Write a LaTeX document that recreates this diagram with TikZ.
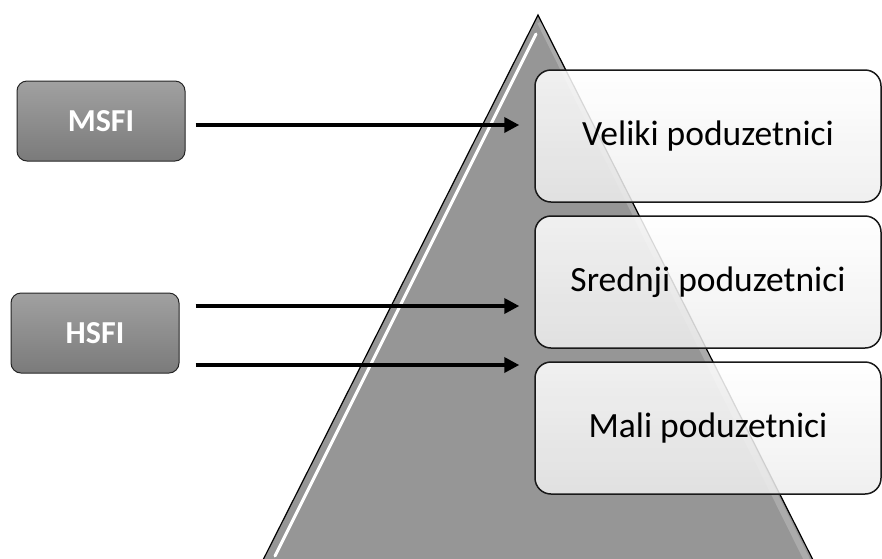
\documentclass[tikz,border=0pt]{standalone}
\usepackage{fontspec}
\setmainfont{Carlito}
\tikzstyle{every node}+=[inner sep=0pt]
\tikzstyle{sfi}=[rectangle, rounded corners=10pt, draw=black!85, line width=1pt, top color=black!37, bottom color=black!52, text=white, font=\fontsize{32}{38}\selectfont\bfseries, minimum width=168pt, minimum height=80pt]
\tikzstyle{level}=[rectangle, rounded corners=16pt, draw=black!90, line width=1.5pt, top color=white, bottom color=black!7, fill opacity=0.86, draw opacity=1, text opacity=1, font=\fontsize{35.5}{42}\selectfont, minimum width=346pt, minimum height=132pt, node distance=146pt]
\tikzstyle{arr}=[-{Triangle[length=15pt,width=15pt]}, line width=3.5pt]
\usetikzlibrary{arrows.meta,positioning}

\begin{document}
\begin{tikzpicture}[x=1pt,y=-1pt]
\useasboundingbox (0,0) rectangle (882,558);
\clip (0,0) rectangle (882,558);

% pyramid
\coordinate (top) at (538,15);
\coordinate (bl) at (262,562);
\coordinate (br) at (814,562);
\fill[black!41] (top) -- (bl) -- (br) -- cycle;
\draw[white, opacity=0.2, line width=6pt] (540,22) -- (808,562);
\draw[white, line width=3pt, line cap=round] (536,34) -- (275,556);
\draw[line width=1.2pt] (bl) -- (top) -- (br);

\node[level] (Veliki) at (708,136) {\raisebox{-3pt}{Veliki poduzetnici}};
\node[level, below of=Veliki] (Srednji) {\raisebox{-3pt}{Srednji poduzetnici}};
\node[level, below of=Srednji] (Mali) {\raisebox{-3pt}{Mali poduzetnici}};

\node[sfi] (MSFI) at (101,121) {MSFI};
\node[sfi] (HSFI) at (95,333) {HSFI};

\path ([xshift=10pt,yshift=-4pt]MSFI.east) coordinate (m1);
\path ([xshift=16pt,yshift=27pt]HSFI.east) coordinate (h1);
\path ([xshift=16pt,yshift=-32pt]HSFI.east) coordinate (h2);

\draw[arr, shorten >=15pt] (m1) -- (m1 -| Veliki.west);
\draw[arr, shorten >=15pt] (h1) -- (h1 -| Srednji.west);
\draw[arr, shorten >=15pt] (h2) -- (h2 -| Mali.west);
\end{tikzpicture}
\end{document}
